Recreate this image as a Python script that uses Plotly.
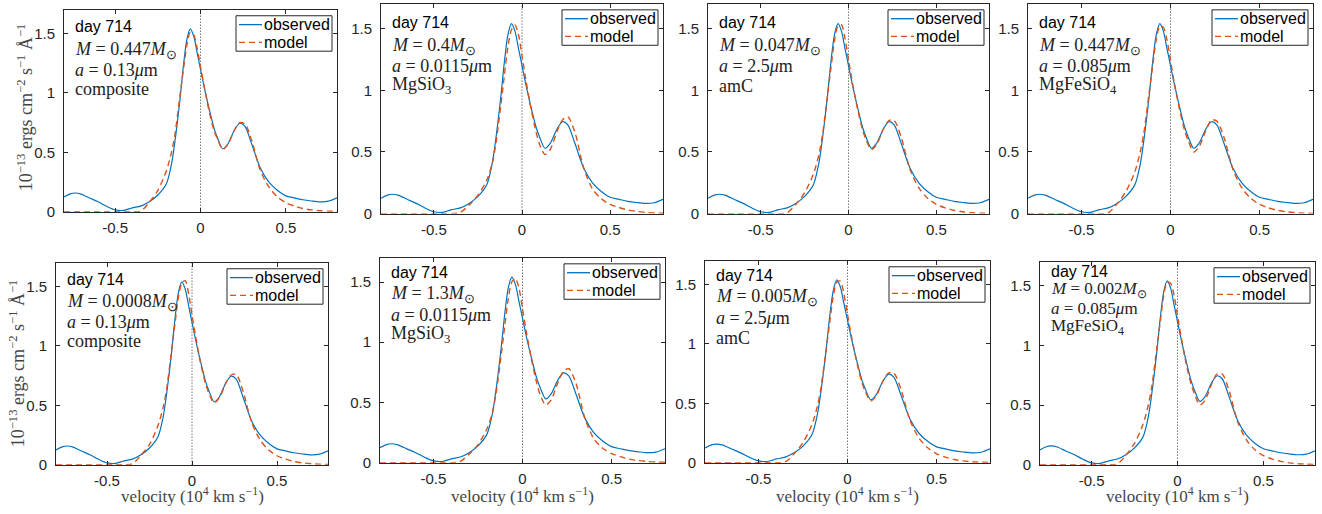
import plotly.graph_objects as go

# Velocity grid (10^4 km/s) shared by every spectrum
velocity = [-0.8, -0.76, -0.735, -0.7, -0.65, -0.6, -0.55, -0.5, -0.45, -0.4, -0.35,
            -0.3, -0.25, -0.2, -0.17, -0.15, -0.12, -0.1, -0.08, -0.06, -0.04, -0.02,
            0.0, 0.02, 0.05, 0.08, 0.1, 0.13, 0.16, 0.2, 0.23, 0.26, 0.3, 0.35, 0.4,
            0.45, 0.5, 0.55, 0.6, 0.65, 0.7, 0.75, 0.8]

# Observed line profile at day 714
observed = [0.124, 0.152, 0.157, 0.148, 0.115, 0.083, 0.045, 0.015, 0.01, 0.032, 0.047,
            0.083, 0.14, 0.235, 0.40, 0.59, 0.95, 1.23, 1.45, 1.54, 1.48, 1.34,
            1.20, 1.06, 0.87, 0.70, 0.62, 0.53, 0.57, 0.69, 0.745, 0.72, 0.57, 0.37, 0.25,
            0.18, 0.133, 0.116, 0.10, 0.09, 0.083, 0.088, 0.116]

# Model profiles, one per dust species / mass
model_composite_a = [0, 0, 0, 0, 0, 0, 0, 0, 0, 0, 0.005,
                     0.08, 0.18, 0.345, 0.50, 0.65, 0.98, 1.20, 1.40, 1.51, 1.49, 1.38,
                     1.22, 1.07, 0.85, 0.68, 0.61, 0.525, 0.565, 0.69, 0.75, 0.74, 0.60, 0.35, 0.21,
                     0.125, 0.075, 0.047, 0.027, 0.015, 0.008, 0.004, 0.002]
model_mgsio3_a = [0, 0, 0, 0, 0, 0, 0, 0, 0, 0, 0.01,
                  0.07, 0.15, 0.27, 0.40, 0.55, 0.88, 1.12, 1.35, 1.49, 1.53, 1.45,
                  1.28, 1.10, 0.86, 0.66, 0.56, 0.48, 0.52, 0.67, 0.76, 0.785, 0.66, 0.37, 0.20,
                  0.12, 0.075, 0.05, 0.03, 0.018, 0.01, 0.005, 0.003]
model_amc_a = [0, 0, 0, 0, 0, 0, 0, 0, 0, 0, 0.006,
               0.075, 0.17, 0.32, 0.47, 0.62, 0.95, 1.18, 1.40, 1.52, 1.53, 1.42,
               1.25, 1.08, 0.86, 0.68, 0.60, 0.52, 0.56, 0.69, 0.755, 0.755, 0.62, 0.36, 0.21,
               0.125, 0.075, 0.047, 0.027, 0.015, 0.008, 0.004, 0.002]
model_mgfesio4_a = [0, 0, 0, 0, 0, 0, 0, 0, 0, 0, 0.006,
                    0.08, 0.18, 0.34, 0.50, 0.65, 0.98, 1.20, 1.41, 1.52, 1.51, 1.41,
                    1.24, 1.07, 0.85, 0.67, 0.59, 0.50, 0.54, 0.68, 0.76, 0.75, 0.62, 0.36, 0.21,
                    0.125, 0.075, 0.047, 0.027, 0.015, 0.008, 0.004, 0.002]
model_composite_b = [0, 0, 0, 0, 0, 0, 0, 0, 0, 0, 0.006,
                     0.08, 0.17, 0.33, 0.48, 0.63, 0.96, 1.19, 1.41, 1.53, 1.55, 1.44,
                     1.26, 1.09, 0.86, 0.68, 0.60, 0.52, 0.56, 0.69, 0.755, 0.76, 0.62, 0.36, 0.21,
                     0.125, 0.075, 0.047, 0.027, 0.015, 0.008, 0.004, 0.002]
model_mgsio3_b = [0, 0, 0, 0, 0, 0, 0, 0, 0, 0, 0.01,
                  0.07, 0.15, 0.28, 0.41, 0.56, 0.89, 1.13, 1.36, 1.50, 1.53, 1.45,
                  1.28, 1.10, 0.86, 0.66, 0.56, 0.48, 0.52, 0.67, 0.76, 0.78, 0.66, 0.37, 0.20,
                  0.12, 0.075, 0.05, 0.03, 0.018, 0.01, 0.005, 0.003]
model_amc_b = [0, 0, 0, 0, 0, 0, 0, 0, 0, 0, 0.006,
               0.075, 0.17, 0.32, 0.47, 0.62, 0.95, 1.18, 1.40, 1.52, 1.53, 1.42,
               1.25, 1.08, 0.86, 0.68, 0.60, 0.52, 0.56, 0.69, 0.755, 0.755, 0.62, 0.36, 0.21,
               0.125, 0.075, 0.047, 0.027, 0.015, 0.008, 0.004, 0.002]
model_mgfesio4_b = [0, 0, 0, 0, 0, 0, 0, 0, 0, 0, 0.006,
                    0.08, 0.18, 0.34, 0.50, 0.65, 0.98, 1.20, 1.42, 1.53, 1.52, 1.42,
                    1.25, 1.08, 0.85, 0.67, 0.59, 0.50, 0.54, 0.68, 0.76, 0.76, 0.62, 0.36, 0.21,
                    0.125, 0.075, 0.047, 0.027, 0.015, 0.008, 0.004, 0.002]

models = [model_composite_a, model_mgsio3_a, model_amc_a, model_mgfesio4_a,
          model_composite_b, model_mgsio3_b, model_amc_b, model_mgfesio4_b]

# Panel labels
day_label = "day 714"
dust_mass = ["0.447", "0.4", "0.047", "0.447", "0.0008", "1.3", "0.005", "0.002"]
grain_size = ["0.13", "0.0115", "2.5", "0.085", "0.13", "0.0115", "2.5", "0.085"]
species = ["composite", "MgSiO<sub>3</sub>", "amC", "MgFeSiO<sub>4</sub>",
           "composite", "MgSiO<sub>3</sub>", "amC", "MgFeSiO<sub>4</sub>"]
legend_names = ["observed", "model"]

x_ticks = [-0.5, 0, 0.5]
x_tick_text = ["-0.5", "0", "0.5"]
y_ticks = [0, 0.5, 1, 1.5]
y_tick_text = ["0", "0.5", "1", "1.5"]

W, H = 1322, 514
# Panel frames in pixels: (left, right, top, bottom)
frames = [(64, 337, 10, 215), (381, 663, 4, 217), (708, 989, 4, 217), (1028, 1313, 4, 217),
          (56, 328, 267, 472), (380, 665, 262, 470), (705, 990, 265, 470), (1040, 1315, 266, 472)]
# Vertical offsets (px below frame top) of the four text lines in each panel
text_rows = [(17, 41, 61, 80), (19, 43, 63, 83), (19, 43, 63, 83), (19, 43, 63, 83),
             (17, 40, 60, 79), (15, 37, 58, 78), (15, 37, 58, 78), (10, 29, 47, 66)]
text_size = [18, 18, 18, 18, 18, 18, 18, 17]

BLUE = "#0072BD"
ORANGE = "#D95319"
AXIS = "#262626"
SANS = "Liberation Sans, Arial, sans-serif"
SERIF = "Liberation Serif, Times New Roman, serif"


def px_x(p):
    return p / W


def px_y(p):
    return 1 - p / H


fig = go.Figure()
annotations = []
shapes = []
layout = {}

for i, (l, r, t, b) in enumerate(frames):
    n = i + 1
    xa = "x" if n == 1 else f"x{n}"
    ya = "y" if n == 1 else f"y{n}"

    fig.add_trace(go.Scatter(x=velocity, y=observed, mode="lines", name=legend_names[0],
                             line=dict(color=BLUE, width=1.2, shape="spline", smoothing=0.8),
                             xaxis=xa, yaxis=ya, showlegend=False))
    fig.add_trace(go.Scatter(x=velocity, y=models[i], mode="lines", name=legend_names[1],
                             line=dict(color=ORANGE, width=1.4, dash="6px,4px",
                                       shape="spline", smoothing=0.8),
                             xaxis=xa, yaxis=ya, showlegend=False))

    common = dict(showline=True, linecolor=AXIS, linewidth=1, mirror="ticks",
                  ticks="inside", ticklen=4, tickcolor=AXIS, tickwidth=1,
                  showgrid=False, zeroline=False,
                  tickfont=dict(family=SANS, size=15, color=AXIS))
    layout["xaxis" if n == 1 else f"xaxis{n}"] = dict(
        domain=[px_x(l), px_x(r)], range=[-0.8, 0.8], anchor=ya,
        tickvals=x_ticks, ticktext=x_tick_text, ticklabelstandoff=2, **common)
    layout["yaxis" if n == 1 else f"yaxis{n}"] = dict(
        domain=[px_y(b), px_y(t)], range=[0, 1.7], anchor=xa,
        tickvals=y_ticks, ticktext=y_tick_text, ticklabelstandoff=5, **common)

    # zero-velocity marker
    shapes.append(dict(type="line", xref=xa, yref=f"{ya} domain", x0=0, x1=0, y0=0, y1=1,
                       line=dict(color="#333", width=1, dash="1px,2px"), layer="below"))

    # legend box in the top-right corner of the panel
    bl, br, bt, bb = r - 101, r - 5, t + 6, t + 42
    shapes.append(dict(type="rect", xref="paper", yref="paper",
                       x0=px_x(bl), x1=px_x(br), y0=px_y(bb), y1=px_y(bt),
                       fillcolor="white", line=dict(color=AXIS, width=1), layer="above"))
    for k, (name, col, dash) in enumerate([(legend_names[0], BLUE, "solid"),
                                            (legend_names[1], ORANGE, "6px,4px")]):
        yy = bt + 9 + 18 * k
        shapes.append(dict(type="line", xref="paper", yref="paper",
                           x0=px_x(bl + 3), x1=px_x(bl + 26), y0=px_y(yy), y1=px_y(yy),
                           line=dict(color=col, width=1.3, dash=dash), layer="above"))
        annotations.append(dict(text=name, x=px_x(bl + 26), y=px_y(yy), xref="paper",
                                yref="paper", xanchor="left", yanchor="middle",
                                showarrow=False,
                                font=dict(family=SANS, size=16, color="black")))

    rows = text_rows[i]
    fs = text_size[i]
    lines = [
        (day_label, SANS, 16, "black"),
        (f"<i>M</i> = {dust_mass[i]}<i>M</i><sub>⊙</sub>", SERIF, fs, "#222"),
        (f"<i>a</i> = {grain_size[i]}<i>μ</i>m", SERIF, fs, "#222"),
        (species[i], SERIF, fs, "#222"),
    ]
    for (txt, fam, size, col), dy in zip(lines, rows):
        annotations.append(dict(text=txt, x=px_x(l + 9), y=px_y(t + dy), xref="paper",
                                yref="paper", xanchor="left", yanchor="middle",
                                showarrow=False, font=dict(family=fam, size=size, color=col)))

    if n >= 5:
        annotations.append(dict(text="velocity (10<sup>4</sup> km s<sup>−1</sup>)",
                                x=px_x((l + r) / 2), y=px_y(503), xref="paper", yref="paper",
                                xanchor="center", yanchor="middle", showarrow=False,
                                font=dict(family=SERIF, size=17, color="#444")))

ylabel = "10<sup>−13</sup> ergs cm<sup>−2</sup> s<sup>−1</sup> Å<sup>−1</sup>"
for xc, yc in [(25, 109), (17, 369)]:
    annotations.append(dict(text=ylabel, x=px_x(xc), y=px_y(yc), xref="paper", yref="paper",
                            xanchor="center", yanchor="middle", textangle=-90, showarrow=False,
                            font=dict(family=SERIF, size=18, color="#444")))

fig.update_layout(width=W, height=H, margin=dict(l=0, r=0, t=0, b=0),
                  paper_bgcolor="white", plot_bgcolor="white", showlegend=False,
                  annotations=annotations, shapes=shapes, **layout)

fig.write_html("out.html")
